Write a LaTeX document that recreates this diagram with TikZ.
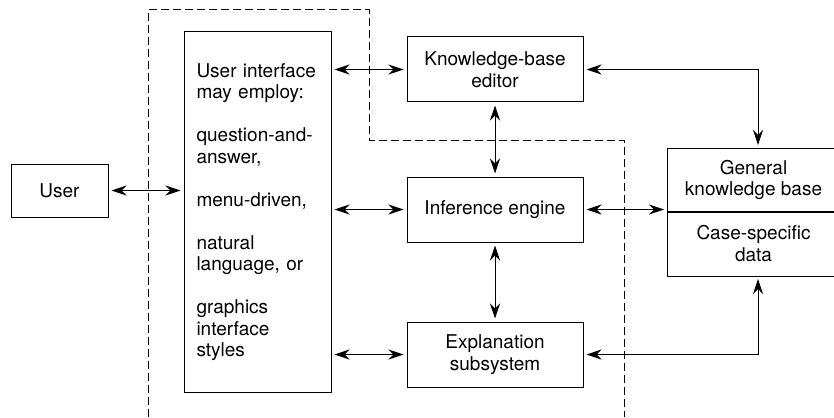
\documentclass[tikz,border=0pt]{standalone}
\usepackage{fontspec}
\setmainfont{TeX Gyre Heros}
\usetikzlibrary{arrows.meta,positioning}

\begin{document}
\begin{tikzpicture}[x=1pt, y=-1pt, line width=1pt,
    every node/.style={font=\fontsize{19}{21.5}\selectfont},
    unitbox/.style={draw, align=center, minimum width=176pt, minimum height=65pt},
    link/.style={{Stealth[length=15pt,width=10pt,inset=5pt]}-{Stealth[length=15pt,width=10pt,inset=5pt]}, shorten >=3pt, shorten <=3pt}]
  \useasboundingbox (0,0) rectangle (834,417);
  \node[draw, minimum width=97pt, minimum height=53pt] (user) at (59.5,190.5) {User};
  \node[draw, align=left, text width=122pt, inner xsep=12.5pt, minimum height=360pt] (ui) at (257.5,212) {User interface\\may employ:\\[21.5pt]question-and-\\answer,\\[21.5pt]menu-driven,\\[21.5pt]natural\\language, or\\[21.5pt]graphics\\interface\\styles};
  \node[unitbox] (kbe) at (495,69.5) {Knowledge-base\\editor};
  \node[unitbox, below=74pt of kbe] (ie) {Inference engine};
  \node[unitbox, below=79pt of ie] (expl) {Explanation\\subsystem};
  \node[draw, align=center, minimum width=173pt, minimum height=64pt, outer sep=0pt] (gkb) at (753.5,180) {General\\knowledge base};
  \node[draw, align=center, minimum width=173pt, minimum height=65pt, outer sep=0pt, below=-1pt of gkb] (csd) {Case-specific\\data};
  % dashed boundary
  \draw[dashed, dash pattern=on 8pt off 4pt] (148,417) |- (369,10) |- (624,140) -- (624,417);
  % connectors
  \draw[link] (user) -- (user -| ui.west);
  \foreach \b in {kbe,ie,expl}
    \draw[link] (\b.west -| ui.east) -- (\b);
  \draw[link] (kbe) -- (ie);
  \draw[link] (ie) -- (expl);
  \draw[link] (kbe) -| ([xshift=4.5pt]gkb.north);
  \draw[link] (ie) -- (ie -| gkb.west);
  \draw[link] (expl) -| ([xshift=4.5pt]csd.south);
\end{tikzpicture}
\end{document}
